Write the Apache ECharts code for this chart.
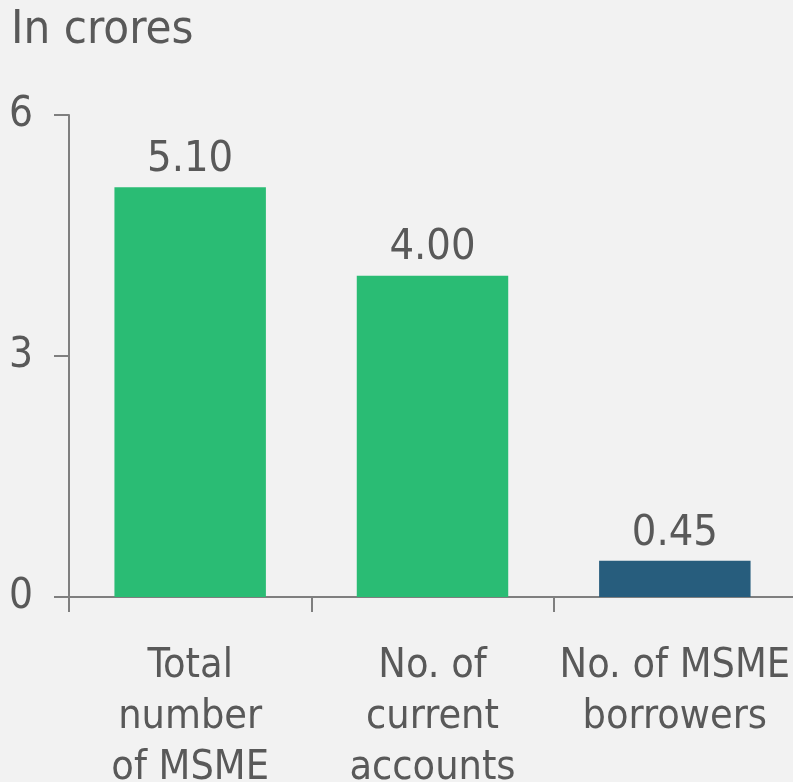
<!DOCTYPE html>
<html>
<head>
<meta charset="utf-8">
<script src="https://cdn.jsdelivr.net/npm/echarts@6/dist/echarts.min.js"></script>
<style>
  html, body { margin: 0; padding: 0; background: #f2f2f2; }
  #chart { width: 793px; height: 782px; }
</style>
</head>
<body>
<div id="chart"></div>
<script>
// MSME figures, in crores
const categories = ['Total\nnumber\nof MSME', 'No. of\ncurrent\naccounts', 'No. of MSME\nborrowers'];
const values = [5.10, 4.00, 0.45];
const barColors = ['#2abc74', '#2abc74', '#275d7d'];
const yTicks = [0, 3, 6];

const FONT = '"DejaVu Sans Condensed", "DejaVu Sans", sans-serif';
const TEXT = '#595959';
const AXIS = '#7f7f7f';

const chart = echarts.init(document.getElementById('chart'), null, { renderer: 'canvas' });

chart.setOption({
  backgroundColor: '#f2f2f2',
  animation: false,
  title: {
    text: 'In crores',
    left: 6,
    top: 2,
    textStyle: { fontFamily: FONT, fontSize: 47, fontWeight: 'normal', color: TEXT }
  },
  // the plot runs slightly past the right edge of the canvas
  grid: { left: 69, top: 115, width: 727, height: 482, outerBoundsMode: 'none' },
  xAxis: {
    type: 'category',
    data: categories,
    axisLine: { lineStyle: { color: AXIS, width: 2 } },
    axisTick: { show: true, length: 15, lineStyle: { color: AXIS, width: 2 } },
    axisLabel: {
      interval: 0,
      margin: 44,
      fontFamily: FONT,
      fontSize: 41,
      lineHeight: 51,
      color: TEXT
    }
  },
  yAxis: {
    type: 'value',
    min: yTicks[0],
    max: yTicks[yTicks.length - 1],
    interval: 3,
    splitLine: { show: false },
    axisLine: { show: true, lineStyle: { color: AXIS, width: 2 } },
    axisTick: { show: true, length: 15, lineStyle: { color: AXIS, width: 2 } },
    axisLabel: { margin: 36, fontFamily: FONT, fontSize: 42, color: TEXT }
  },
  series: [{
    type: 'bar',
    barCategoryGap: '37.5%',
    data: values.map((v, i) => ({ value: v, itemStyle: { color: barColors[i] } })),
    label: {
      show: true,
      position: 'top',
      distance: 6,
      formatter: p => p.value.toFixed(2),
      fontFamily: FONT,
      fontSize: 43,
      color: TEXT
    }
  }]
});
</script>
</body>
</html>
